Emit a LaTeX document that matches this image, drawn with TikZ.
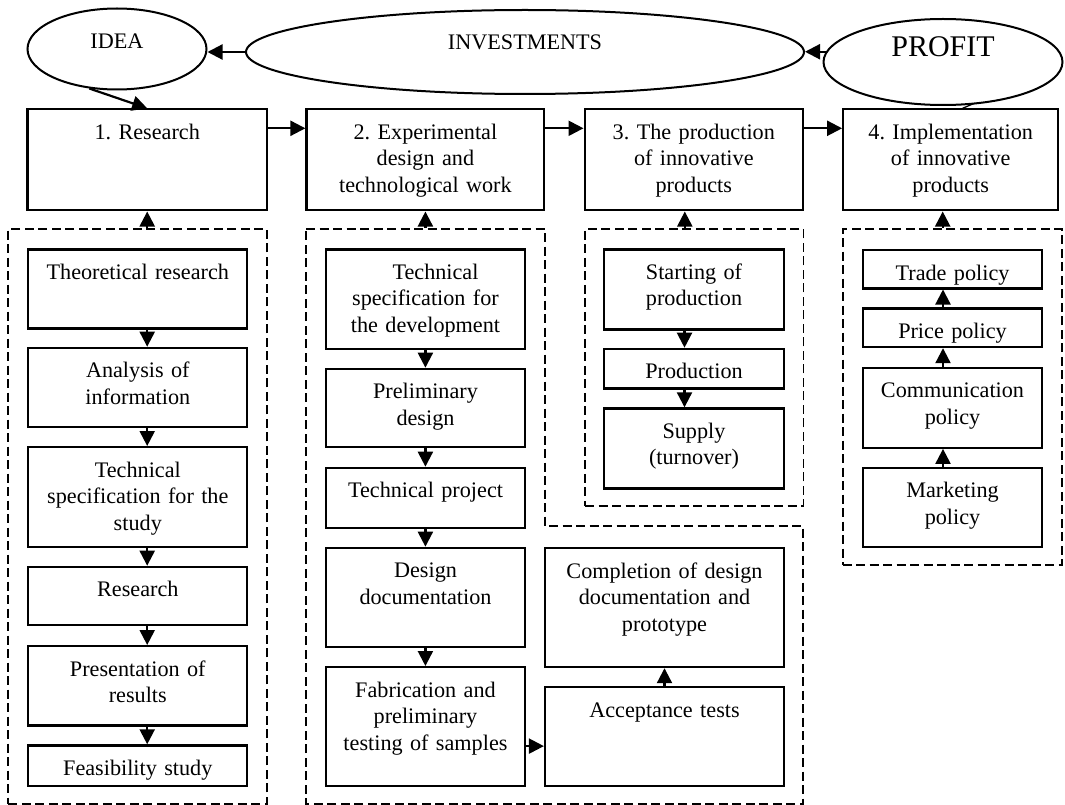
\documentclass[tikz,border=0pt]{standalone}
\usepackage{fontspec}
\setmainfont{Liberation Serif}
\frenchspacing
\usetikzlibrary{arrows.meta, shapes.geometric, backgrounds}

\begin{document}
\begin{tikzpicture}[
  x=1pt, y=-1pt,
  every node/.style={font=\fontsize{22.2}{26.5}\selectfont},
  blk/.style={draw, line width=2.2pt, inner xsep=4pt, inner ysep=0pt,
              text height=30pt, text depth=#1, align=center, anchor=north},
  c1/.style={text width=211pt},
  c2/.style={text width=191pt},
  c3/.style={text width=171.4pt},
  c4/.style={text width=170.4pt},
  cr/.style={text width=231pt},
  oval/.style={draw, ellipse, line width=2pt, inner sep=0pt, fill=white},
  grp/.style={draw, line width=1.7pt, dash pattern=on 9pt off 4.5pt,
              inner sep=0pt},
  arr/.style={-{Triangle[length=15pt, width=15pt]}, line width=2.2pt},
]
  \useasboundingbox (0,0) rectangle (1065,805);

  %% ── Top: the three ellipses ──
  \node[oval, minimum width=179pt, minimum height=81pt, text depth=15pt]
    (idea) at (117, 49) {IDEA};
  \node[oval, minimum width=558pt, minimum height=84pt, text depth=20pt]
    (inv) at (525, 52) {INVESTMENTS};
  \node[oval, minimum width=239pt, minimum height=86pt, text depth=30pt,
        font=\fontsize{30}{34}\selectfont]
    (profit) at (943, 62) {PROFIT};

  %% ══════════════════════════════════════════════════════
  %% Stages (row of four)
  \node[blk=71pt, text width=231.4pt] (box1) at (147.2, 108.3)
    {1. Research};
  \node[blk=71pt, text width=229.8pt] (box2) at (425.4, 108.3)
    {2. Experimental\\design and\\technological work};
  \node[blk=71pt, text width=210.4pt] (box3) at (693.8, 108.3)
    {3. The production\\of innovative\\products};
  \node[blk=71pt, text width=207pt] (box4) at (950.7, 108.3)
    {4. Implementation\\of innovative\\products};

  %% ══════════════════════════════════════════════════════
  %% Dashed groups
  \node[grp, minimum width=258.4pt, minimum height=575pt] (g1)
    at (137.5, 516.5) {};
  \draw[grp] (306,229) -- (545,229) -- (545,526) -- (803,526)
             -- (803,804) -- (306,804) -- cycle;           %% L-shaped group 2
  \node[grp, minimum width=218.3pt, minimum height=277pt] (g3)
    at (694.2, 367.5) {};
  \node[grp, minimum width=219pt, minimum height=336pt] (g4)
    at (952.2, 397) {};

  %% Group 1: research steps
  \node[blk=49pt,   c1] (theo)  at (137.8, 248.3) {Theoretical research};
  \node[blk=49.3pt, c1] (anal)  at (137.8, 346.7) {Analysis of\\information};
  \node[blk=69.7pt, c1] (tspec) at (137.8, 446)
    {Technical\\specification for the\\study};
  \node[blk=28.3pt, c1] (res)   at (137.8, 565.7) {Research};
  \node[blk=49.3pt, c1] (pres)  at (137.8, 645)   {Presentation of\\results};
  \node[blk=10.7pt, c1] (feas)  at (137.8, 744.3) {Feasibility study};

  %% Group 2: design work
  \node[blk=69.4pt, c2] (tdev)  at (425.5, 248.3)
    {\hspace*{20pt}Technical\\specification for\\the development};
  \node[blk=48.3pt, c2] (prel)  at (425.5, 367.7) {Preliminary\\design};
  \node[blk=30pt,   c2] (tproj) at (425.5, 466.7) {Technical project};
  \node[blk=69pt,   c2] (ddoc)  at (425.5, 546.7) {Design\\documentation};
  \node[blk=89pt,   c2] (fab)   at (425.5, 666)
    {Fabrication and\\preliminary\\testing of samples};
  \node[blk=89pt,   cr] (compl) at (664.5, 547)
    {Completion of design\\documentation and\\prototype};
  \node[blk=69pt,   cr] (acc)   at (664.5, 686)   {Acceptance tests};

  %% Group 3: production
  \node[blk=50pt,  c3] (start)  at (694, 248.3) {Starting of\\production};
  \node[blk=9.6pt, c3] (prod)   at (694, 347.7) {Production};
  \node[blk=50pt,  c3] (supply) at (694, 407.3) {Supply\\(turnover)};

  %% Group 4: implementation
  \node[blk=8.3pt,  c4] (trade) at (952.5, 249)   {Trade policy};
  \node[blk=8.7pt,  c4] (price) at (952.5, 307.3) {Price policy};
  \node[blk=50pt,   c4] (comm)  at (952.5, 366.7)
    {Communication\hspace*{20pt}\\policy};
  \node[blk=49.3pt, c4] (mkt)   at (952.5, 466.7) {Marketing\\policy};

  %% ══════════════════════════════════════════════════════
  %% ═══ ARROWS ═══

  %% Ellipses
  \draw[arr] (inv.west) -- (inv.west -| idea.east);
  \draw[arr] (profit.175) -- (profit.175 -| inv.east);
  \draw[arr] (idea.235) -- (box1.north);
  \begin{scope}[on background layer]
    \draw[line width=1.3pt] ([xshift=12pt]box4.north) -- ++(30,-13);
  \end{scope}

  %% Stage to stage
  \draw[arr] ([yshift=-20pt]box1.north east) -- ([yshift=-20pt]box2.north west);
  \draw[arr] ([yshift=-20pt]box2.north east) -- ([yshift=-20pt]box3.north west);
  \draw[arr] ([yshift=-20pt]box3.north east) -- ([yshift=-20pt]box4.north west);

  %% Groups up into stages
  \draw[arr] (box1.south |- g1.north) -- (box1.south);
  \draw[arr] (box2.south |- g1.north) -- (box2.south);
  \draw[arr] ([xshift=-9pt]box3.south |- g3.north) -- ([xshift=-9pt]box3.south);
  \draw[arr] ([xshift=-8pt]box4.south |- g4.north) -- ([xshift=-8pt]box4.south);

  %% Inside the groups
  \foreach \a/\b in {theo/anal, anal/tspec, tspec/res, res/pres, pres/feas}
    \draw[arr] (\a.south -| box1.south) -- (\b.north -| box1.south);
  \foreach \a/\b in {tdev/prel, prel/tproj, tproj/ddoc, ddoc/fab}
    \draw[arr] (\a.south -| box2.south) -- (\b.north -| box2.south);
  \draw[arr] ([yshift=-19.5pt]fab.east) -- ([yshift=-19.5pt]fab.east -| acc.west);
  \draw[arr] (acc.north) -- (compl.south);
  \foreach \a/\b in {start/prod, prod/supply}
    \draw[arr] ([xshift=-9.5pt]\a.south) -- ([xshift=-9.5pt]\b.north);
  \foreach \a/\b in {mkt/comm, comm/price, price/trade}
    \draw[arr] ([xshift=-9.5pt]\a.north) -- ([xshift=-9.5pt]\b.south);
\end{tikzpicture}
\end{document}
